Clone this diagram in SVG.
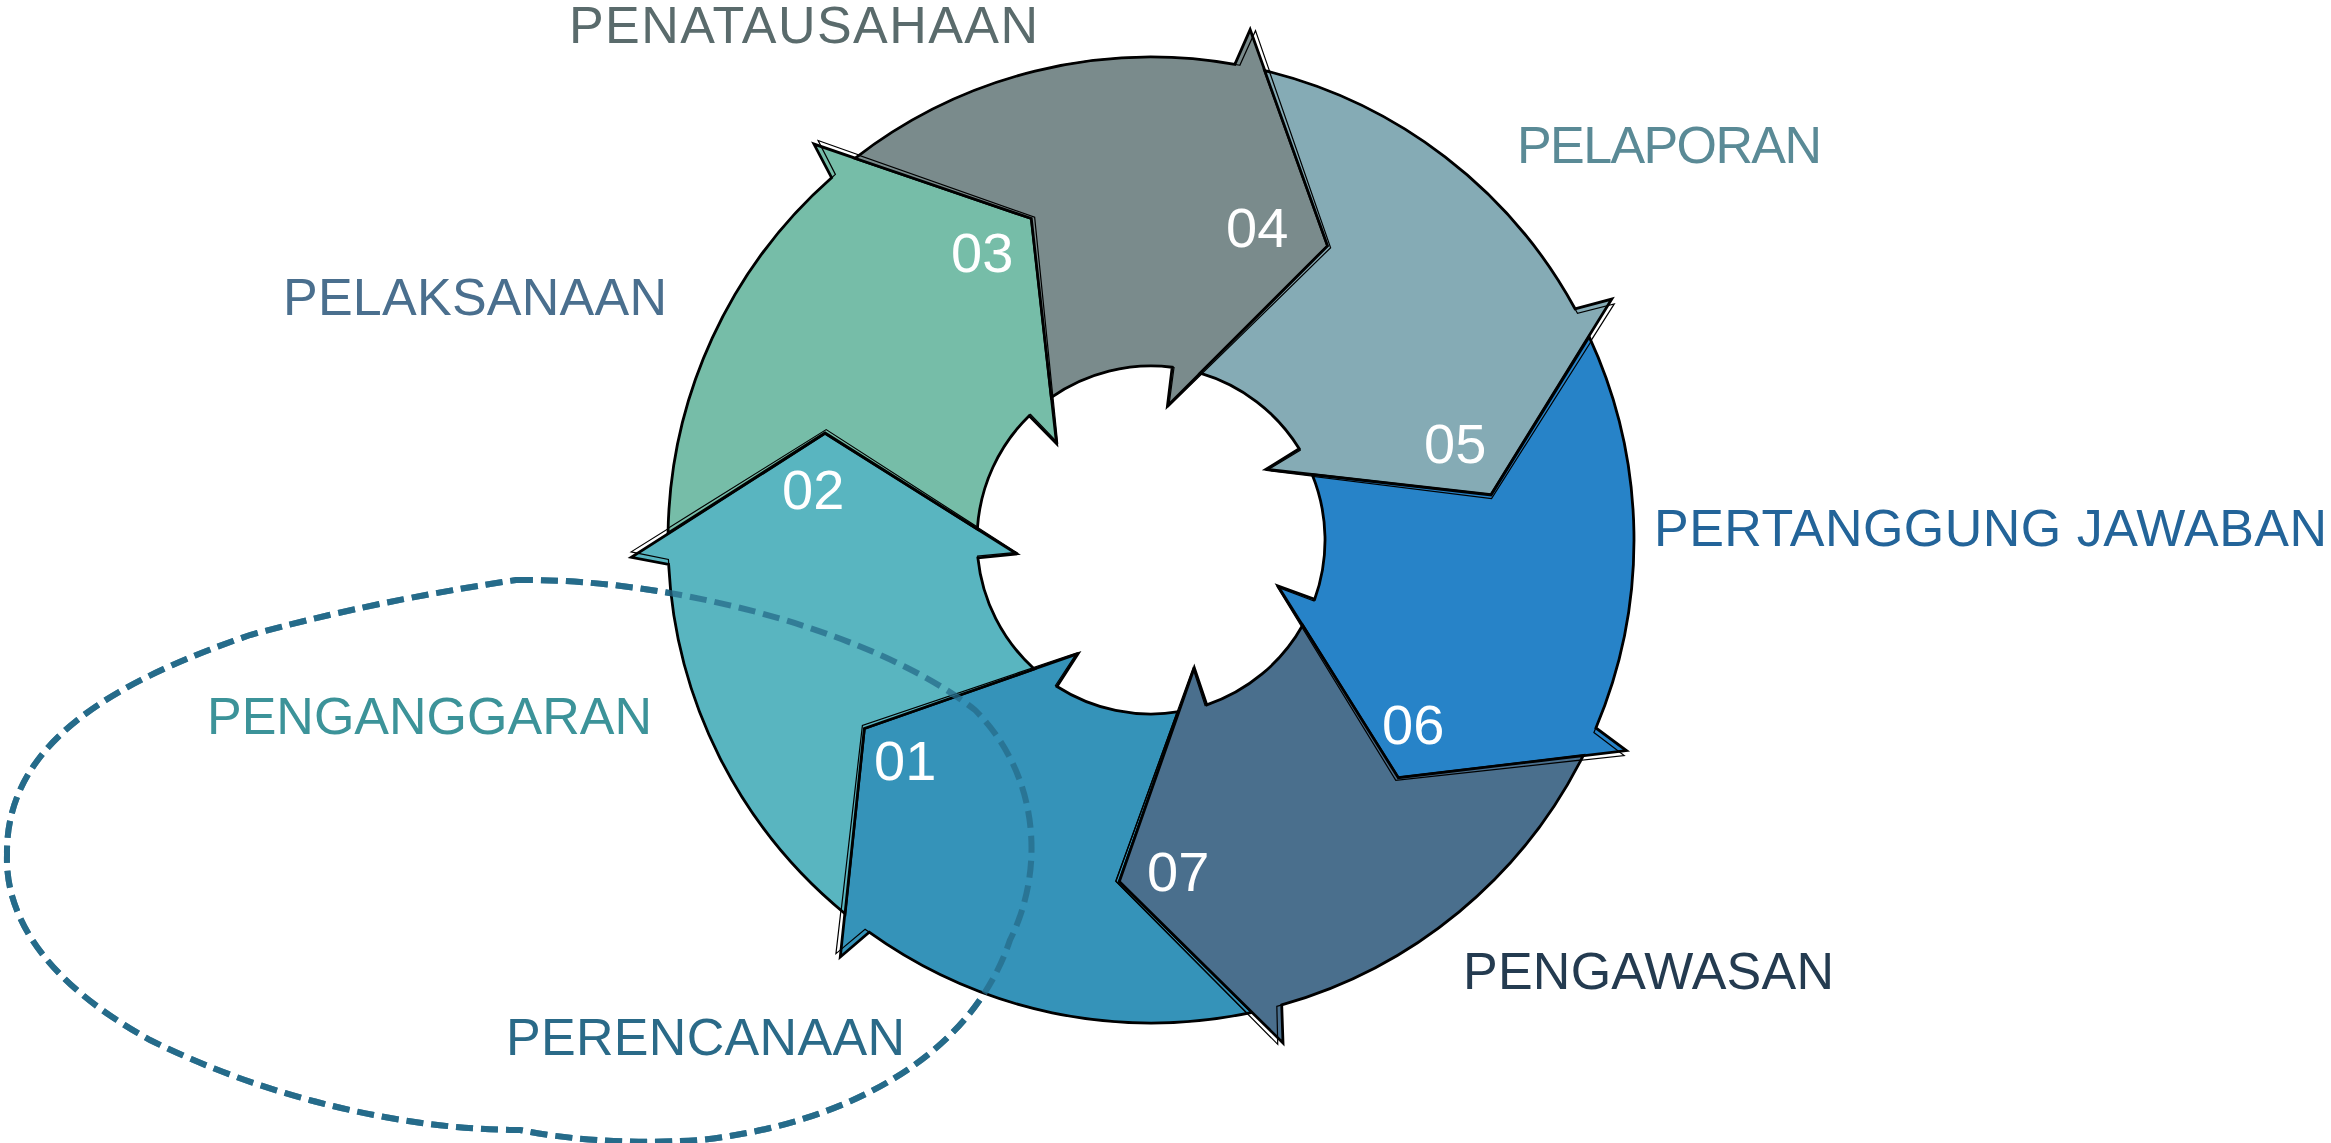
<svg xmlns="http://www.w3.org/2000/svg" xmlns:xlink="http://www.w3.org/1999/xlink" width="2331" height="1143" viewBox="0 0 2331 1143">
<style>
.seg{stroke:#000;stroke-width:2.8;stroke-linejoin:miter;stroke-miterlimit:20}
.sk{fill:none;stroke:#000;stroke-width:1.2}
.num{font-family:"Liberation Sans",Arial,sans-serif;font-size:56px;fill:#fff}
.lbl{font-family:"Liberation Sans",Arial,sans-serif;font-size:52px}
.dash{fill:none;stroke:#266b8a;stroke-width:6;stroke-dasharray:17 8}
</style>
<defs>
<path id="arrowSeg" d="M 174.7 -450.3 A 483 483 0 0 1 450.9 -173.1 L 488.6 -177.9 L 343 0 L 123.3 -54.9 L 159.0 -70.8 A 174 174 0 0 0 70.9 -158.9 L 213.9 -268.2 Z"/>
<path id="blob" d="M 516 580 C 680 578, 880 635, 975 710 C 1040 775, 1045 870, 1010 940 C 970 1060, 840 1125, 700 1140 C 620 1145, 560 1138, 520 1130 C 400 1130, 260 1095, 150 1040 C 50 985, 5 920, 7 855 C 5 740, 120 680, 250 635 C 360 605, 450 590, 516 580 Z"/>
</defs>
<rect width="2331" height="1143" fill="#fff"/>

<g id="dashed-underlay">
<use xlink:href="#blob" href="#blob" class="dash"/>
</g>

<g id="node-01">
<use xlink:href="#arrowSeg" href="#arrowSeg" class="seg" fill="#3593b9" transform="translate(1151 540) rotate(146.7)"/>
<use xlink:href="#arrowSeg" href="#arrowSeg" class="sk" transform="translate(1151 540) rotate(147.3)"/>
<text class="num" x="874" y="780">01</text>
<text class="lbl" x="506" y="1055" fill="#2a6a88" textLength="399">PERENCANAAN</text>
</g>
<g id="node-02">
<use xlink:href="#arrowSeg" href="#arrowSeg" class="seg" fill="#59b5c0" transform="translate(1151 540) rotate(198.1)"/>
<use xlink:href="#arrowSeg" href="#arrowSeg" class="sk" transform="translate(1151 540) rotate(198.7)"/>
<text class="num" x="782" y="509">02</text>
<text class="lbl" x="207" y="734" fill="#3c9399" textLength="445">PENGANGGARAN</text>
</g>
<g id="node-03">
<use xlink:href="#arrowSeg" href="#arrowSeg" class="seg" fill="#76bda8" transform="translate(1151 540) rotate(249.6)"/>
<use xlink:href="#arrowSeg" href="#arrowSeg" class="sk" transform="translate(1151 540) rotate(250.2)"/>
<text class="num" x="951" y="272">03</text>
<text class="lbl" x="283" y="315" fill="#4a6f8e" textLength="384">PELAKSANAAN</text>
</g>
<g id="node-04">
<use xlink:href="#arrowSeg" href="#arrowSeg" class="seg" fill="#7a8b8c" transform="translate(1151 540) rotate(301.0)"/>
<use xlink:href="#arrowSeg" href="#arrowSeg" class="sk" transform="translate(1151 540) rotate(301.6)"/>
<text class="num" x="1226" y="247">04</text>
<text class="lbl" x="569" y="43" fill="#5a6b6c" textLength="469">PENATAUSAHAAN</text>
</g>
<g id="node-05">
<use xlink:href="#arrowSeg" href="#arrowSeg" class="seg" fill="#85abb5" transform="translate(1151 540) rotate(352.4)"/>
<use xlink:href="#arrowSeg" href="#arrowSeg" class="sk" transform="translate(1151 540) rotate(353.0)"/>
<text class="num" x="1424" y="463">05</text>
<text class="lbl" x="1517" y="163" fill="#5a8a96" textLength="305">PELAPORAN</text>
</g>
<g id="node-06">
<use xlink:href="#arrowSeg" href="#arrowSeg" class="seg" fill="#2783c8" transform="translate(1151 540) rotate(43.9)"/>
<use xlink:href="#arrowSeg" href="#arrowSeg" class="sk" transform="translate(1151 540) rotate(44.5)"/>
<text class="num" x="1382" y="744">06</text>
<text class="lbl" x="1654" y="546" fill="#236499" textLength="673">PERTANGGUNG JAWABAN</text>
</g>
<g id="node-07">
<use xlink:href="#arrowSeg" href="#arrowSeg" class="seg" fill="#4a6f8d" transform="translate(1151 540) rotate(95.3)"/>
<use xlink:href="#arrowSeg" href="#arrowSeg" class="sk" transform="translate(1151 540) rotate(95.9)"/>
<text class="num" x="1147" y="891">07</text>
<text class="lbl" x="1463" y="989" fill="#243b50" textLength="371">PENGAWASAN</text>
</g>

<g id="connectors">
<use xlink:href="#blob" href="#blob" class="dash" stroke-opacity="0.75"/>
</g>
</svg>
